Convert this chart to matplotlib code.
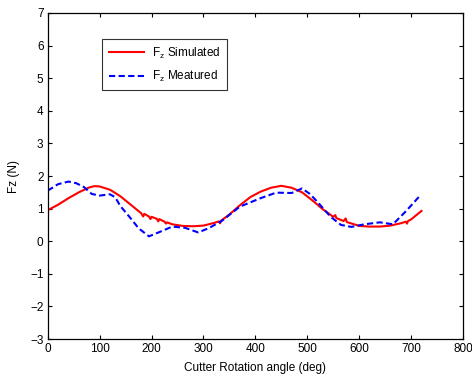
import numpy as np
import matplotlib.pyplot as plt

plt.rcParams['font.family'] = ['Liberation Sans', 'DejaVu Sans']
plt.rcParams['mathtext.default'] = 'regular'

# simulated Fz (incl. the small spikes)
sim_angle = [0, 20, 40, 60, 80, 90, 100, 120, 140, 160, 180, 184, 186, 195,
             198, 200, 210, 213, 215, 225, 228, 230, 240, 260, 280, 300, 320,
             330, 332, 334, 350, 370, 390, 410, 430, 450, 470, 490, 510, 530,
             550, 554, 556, 570, 574, 576, 590, 600, 620, 640, 660, 680, 690,
             692, 694, 700, 720]
sim_fz = [0.95, 1.12, 1.32, 1.50, 1.65, 1.69, 1.68, 1.58, 1.38, 1.12, 0.86,
          0.76, 0.84, 0.76, 0.68, 0.75, 0.69, 0.61, 0.68, 0.60, 0.54, 0.58,
          0.52, 0.47, 0.46, 0.48, 0.56, 0.61, 0.55, 0.63, 0.82, 1.10, 1.35,
          1.52, 1.64, 1.70, 1.64, 1.50, 1.25, 0.98, 0.75, 0.80, 0.71, 0.62,
          0.70, 0.59, 0.52, 0.47, 0.45, 0.45, 0.48, 0.55, 0.60, 0.54, 0.62,
          0.67, 0.93]

# measured Fz
meas_angle = [0, 20, 40, 55, 70, 85, 100, 120, 130, 140, 160, 175, 195, 215,
              240, 265, 290, 310, 335, 370, 410, 440, 470, 490, 505, 520, 545,
              565, 585, 610, 640, 665, 690, 715]
meas_fz = [1.55, 1.75, 1.83, 1.78, 1.66, 1.45, 1.40, 1.44, 1.35, 1.08, 0.70,
           0.40, 0.15, 0.28, 0.45, 0.41, 0.27, 0.40, 0.62, 1.06, 1.32, 1.49,
           1.48, 1.62, 1.45, 1.20, 0.75, 0.50, 0.44, 0.52, 0.58, 0.52, 0.92,
           1.36]

fig = plt.figure(figsize=(4.72, 3.81), dpi=100)
ax = fig.add_axes([0.101, 0.110, 0.880, 0.856])

ax.plot(sim_angle, sim_fz, color='red', lw=1.5, label=r'F$_{z}$ Simulated')
ax.plot(meas_angle, meas_fz, color='blue', lw=1.5, dashes=(3, 1.6),
        label=r'F$_{z}$ Meatured')

ax.set_xlim(0, 800)
ax.set_ylim(-3, 7)
ax.set_xticks(np.arange(0, 801, 100))
ax.set_yticks(np.arange(-3, 8, 1))
ax.tick_params(direction='in', top=True, right=True, length=3,
               labelsize=8.5, pad=3)
for s in ax.spines.values():
    s.set_linewidth(0.9)

ax.set_xlabel('Cutter Rotation angle (deg)', fontsize=8.5, labelpad=5)
ax.set_ylabel('Fz (N)', fontsize=8.5, labelpad=7)

leg = ax.legend(loc='upper left', bbox_to_anchor=(0.131, 0.92), fontsize=8.5,
                frameon=True, fancybox=False, edgecolor='black',
                handlelength=3.0, handletextpad=0.7, borderaxespad=0,
                borderpad=0.55, labelspacing=0.7)
leg.get_frame().set_linewidth(0.8)

fig.savefig('out.png', dpi=100)
